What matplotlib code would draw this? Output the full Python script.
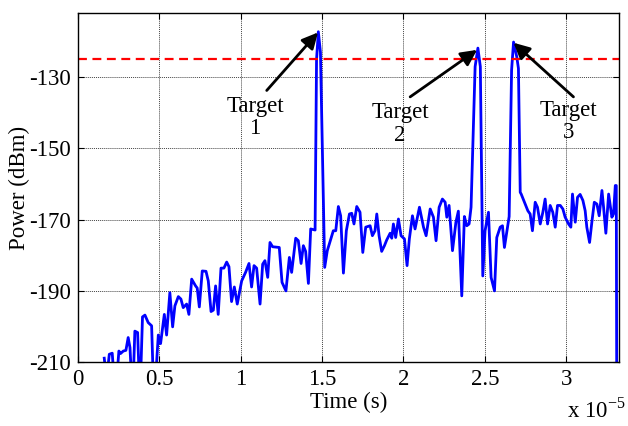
import matplotlib
matplotlib.use('Agg')
import matplotlib.pyplot as plt
from matplotlib.ticker import FuncFormatter

plt.rcParams['font.family'] = ['Liberation Serif', 'DejaVu Serif']
plt.rcParams['mathtext.fontset'] = 'custom'
plt.rcParams['mathtext.rm'] = 'Liberation Serif'
plt.rcParams['axes.unicode_minus'] = False

# time in units of 1e-5 s, power in dBm
time_e5 = [0.162, 0.176, 0.193, 0.211, 0.223, 0.238, 0.252, 0.262, 0.279, 0.295,
           0.309, 0.320, 0.330, 0.340, 0.350, 0.367, 0.377, 0.385, 0.397, 0.412,
           0.432, 0.453, 0.463, 0.477, 0.494, 0.508, 0.531, 0.545, 0.565, 0.582,
           0.596, 0.617, 0.633, 0.647, 0.668, 0.682, 0.699, 0.723, 0.733, 0.746,
           0.764, 0.787, 0.801, 0.818, 0.832, 0.846, 0.862, 0.879, 0.897, 0.914,
           0.928, 0.944, 0.961, 0.979, 1.006, 1.030, 1.051, 1.067, 1.082, 1.098,
           1.119, 1.135, 1.149, 1.166, 1.180, 1.196, 1.237, 1.254, 1.278, 1.299,
           1.313, 1.338, 1.354, 1.371, 1.385, 1.399, 1.416, 1.430, 1.457, 1.466,
           1.477, 1.490, 1.516, 1.532, 1.569, 1.584, 1.600, 1.614, 1.631, 1.649,
           1.668, 1.682, 1.696, 1.713, 1.733, 1.750, 1.768, 1.795, 1.809, 1.825,
           1.836, 1.850, 1.866, 1.883, 1.897, 1.918, 1.928, 1.938, 1.952, 1.969,
           1.985, 2.006, 2.022, 2.036, 2.055, 2.071, 2.098, 2.123, 2.139, 2.164,
           2.184, 2.200, 2.219, 2.239, 2.256, 2.266, 2.280, 2.301, 2.322, 2.337,
           2.358, 2.374, 2.389, 2.403, 2.415, 2.440, 2.457, 2.472, 2.487, 2.501,
           2.522, 2.538, 2.559, 2.573, 2.594, 2.608, 2.620, 2.649, 2.664, 2.676,
           2.696, 2.706, 2.717, 2.723, 2.747, 2.764, 2.778, 2.792, 2.809, 2.823,
           2.840, 2.856, 2.870, 2.885, 2.901, 2.917, 2.932, 2.946, 2.963, 2.979,
           2.993, 3.014, 3.028, 3.038, 3.055, 3.069, 3.085, 3.102, 3.116, 3.126,
           3.143, 3.157, 3.172, 3.188, 3.202, 3.219, 3.229, 3.243, 3.260, 3.280,
           3.290, 3.301, 3.307, 3.311]
power_dbm = [-208.9, -215.0, -207.8, -207.5, -215.0, -215.0, -206.9, -207.6, -206.9, -206.7,
             -203.1, -205.9, -215.0, -215.0, -201.3, -201.7, -215.0, -215.0, -197.3, -196.8,
             -198.9, -199.8, -215.0, -215.0, -202.4, -204.8, -196.6, -202.4, -190.5, -200.1,
             -194.2, -191.6, -192.3, -194.7, -193.7, -196.6, -186.7, -188.6, -189.2, -194.5,
             -184.4, -184.5, -187.2, -195.8, -195.4, -188.6, -196.6, -183.6, -183.6, -181.9,
             -183.2, -193.0, -188.9, -193.7, -187.2, -184.8, -182.3, -188.9, -182.9, -183.6,
             -193.7, -182.5, -181.5, -186.2, -176.4, -177.6, -177.8, -187.6, -190.0, -180.6,
             -184.8, -175.2, -175.9, -182.3, -177.3, -178.9, -187.9, -172.6, -172.9, -125.0,
             -117.2, -123.0, -183.4, -178.7, -173.1, -173.1, -166.3, -168.9, -185.0, -173.1,
             -168.4, -168.2, -171.2, -166.3, -167.9, -179.2, -172.1, -171.7, -174.5, -173.1,
             -168.4, -174.5, -178.9, -177.3, -175.7, -173.8, -175.2, -171.2, -175.0, -169.8,
             -174.5, -175.4, -182.9, -175.4, -168.9, -172.6, -166.5, -172.1, -174.5, -167.0,
             -169.3, -175.9, -166.5, -164.2, -165.1, -169.3, -166.0, -178.7, -170.7, -167.6,
             -191.4, -169.1, -171.7, -171.2, -166.5, -127.0, -121.8, -127.0, -185.8, -173.1,
             -167.9, -186.2, -190.0, -175.0, -172.1, -171.7, -177.8, -169.1, -128.0, -120.1,
             -124.3, -127.5, -162.3, -162.8, -165.6, -167.5, -168.4, -173.1, -165.1, -166.5,
             -171.2, -167.9, -164.2, -171.2, -166.0, -167.9, -172.1, -166.0, -166.0, -167.0,
             -169.3, -171.2, -172.1, -162.8, -170.7, -163.7, -162.9, -164.6, -167.5, -172.1,
             -176.4, -170.7, -165.1, -165.6, -168.9, -161.8, -166.5, -173.8, -162.8, -169.3,
             -168.4, -160.4, -160.4, -240.0]
threshold = -125

targets = ['Target\n1', 'Target\n2', 'Target\n3']
target_peaks = [(1.475, -117.4), (2.452, -122.3), (2.676, -120.3)]
arrow_tails = [(1.160, -133.7), (2.041, -135.5), (3.044, -135.5)]
label_pos = [(1.088, -141.3), (1.979, -143.2), (3.016, -142.4)]

fig = plt.figure(figsize=(6.28, 4.26), dpi=100)
ax = fig.add_axes([0.124, 0.150, 0.862, 0.819])

ax.plot(time_e5, power_dbm, color='#0000ff', lw=2)
ax.axhline(threshold, color='#ff0000', ls=(0, (4, 2.5)), lw=1.6)

for lab, peak, tail, pos in zip(targets, target_peaks, arrow_tails, label_pos):
    ax.annotate('', xy=peak, xytext=tail,
                arrowprops=dict(arrowstyle='-|>', color='k', lw=2,
                                mutation_scale=24, shrinkA=0, shrinkB=0))
    ax.text(pos[0], pos[1], lab, ha='center', va='center', fontsize=16.5,
            linespacing=1.1)

ax.set_xlim(0, 3.325)
ax.set_ylim(-210, -112)
ax.set_xticks([0, 0.5, 1, 1.5, 2, 2.5, 3])
ax.set_yticks([-210, -190, -170, -150, -130])
ax.xaxis.set_major_formatter(FuncFormatter(lambda v, p: '%g' % v))
ax.grid(True, color='#444444', ls=(0, (1, 1)), lw=0.7)
ax.tick_params(direction='in', top=True, right=True, length=4,
               labelsize=16.5, pad=5)
for s in ax.spines.values():
    s.set_linewidth(1)

ax.set_xlabel('Time (s)', fontsize=16.5, labelpad=1)
ax.set_ylabel('Power (dBm)', fontsize=16.5)
ax.yaxis.set_label_coords(-0.089, 0.5)
fig.text(0.903, 0.008, r'x 10$^{-5}$', fontsize=16.5, ha='left', va='bottom')

fig.savefig('out.png', dpi=100)
